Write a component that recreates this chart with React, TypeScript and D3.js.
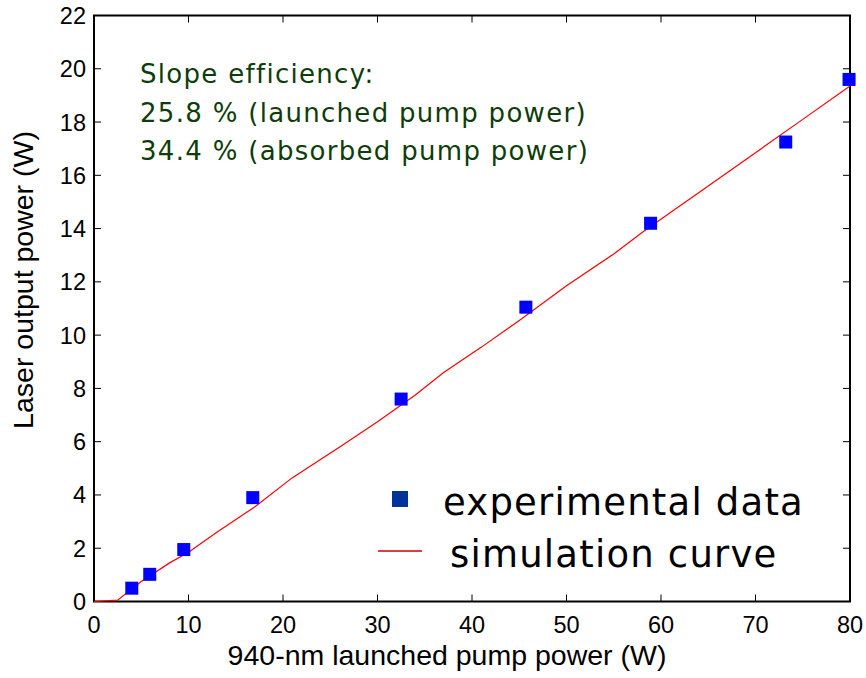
import React from "react";
import * as d3 from "d3";

const expX = [4.0, 5.9, 9.5, 16.8, 32.5, 45.7, 58.9, 73.2, 79.9];
const expY = [0.5, 1.02, 1.95, 3.9, 7.6, 11.05, 14.2, 17.25, 19.6];
const simX = [0, 2.5, 5, 8, 10, 13, 17, 21, 26, 30, 34, 37, 41, 45, 50, 55, 58, 61, 65, 70, 75, 80];
const simY = [0, 0.05, 0.75, 1.45, 1.85, 2.6, 3.55, 4.65, 5.8, 6.75, 7.75, 8.6, 9.55, 10.55, 11.85, 13.05, 13.85, 14.6, 15.6, 16.85, 18.1, 19.35];
const xTicks = [0, 10, 20, 30, 40, 50, 60, 70, 80];
const yTicks = [0, 2, 4, 6, 8, 10, 12, 14, 16, 18, 20, 22];
const noteLines = ["Slope efficiency:", "25.8 % (launched pump power)", "34.4 % (absorbed pump power)"];
const legendLabels = ["experimental data", "simulation curve"];

export default function App() {
  const W = 866, H = 678;
  const L = 94, R = 850, T = 15.5, B = 601.5;
  const x = d3.scaleLinear().domain([0, 80]).range([L, R]);
  const y = d3.scaleLinear().domain([0, 22]).range([B, T]);
  const line = d3.line<number>().x((_, i) => x(simX[i])).y((d) => y(d));
  const tk = 7;
  const axisFont = "Liberation Sans, Arial, sans-serif";
  const comic = "'Comic Sans MS', 'DejaVu Sans', sans-serif";
  const ms = 13;
  return (
    <svg width={W} height={H} style={{ position: "absolute", left: 0, top: 0, background: "#fff" }}>
      <rect x={0} y={0} width={W} height={H} fill="#fff" />
      {xTicks.map((t) => (
        <g key={"x" + t}>
          <line x1={x(t)} x2={x(t)} y1={B} y2={B - tk} stroke="#000" strokeWidth={1} />
          <line x1={x(t)} x2={x(t)} y1={T} y2={T + tk} stroke="#000" strokeWidth={1} />
          <text x={x(t)} y={B + 31.5} fontSize={23.5} fontFamily={axisFont} textAnchor="middle">{t}</text>
        </g>
      ))}
      {yTicks.map((t) => (
        <g key={"y" + t}>
          <line x1={L} x2={L + tk} y1={y(t)} y2={y(t)} stroke="#000" strokeWidth={1} />
          <line x1={R} x2={R - tk} y1={y(t)} y2={y(t)} stroke="#000" strokeWidth={1} />
          <text x={L - 8} y={y(t) + 8.5} fontSize={23.5} fontFamily={axisFont} textAnchor="end">{t}</text>
        </g>
      ))}
      <rect x={L} y={T} width={R - L} height={B - T} fill="none" stroke="#000" strokeWidth={2} />
      <path d={line(simY) || ""} fill="none" stroke="#ff0000" strokeWidth={1.2} />
      {expX.map((v, i) => (
        <rect key={i} x={x(v) - ms / 2} y={y(expY[i]) - ms / 2} width={ms} height={ms} fill="#0000ff" />
      ))}
      {noteLines.map((s, i) => (
        <text key={i} x={140} y={83 + i * 38.5} fontSize={26} letterSpacing={1.3} fontFamily={comic} fill="#0f3d0a">{s}</text>
      ))}
      <rect x={392} y={491} width={16} height={16} fill="#003399" />
      <line x1={378} x2={422} y1={551} y2={551} stroke="#cc0000" strokeWidth={1.5} />
      <text x={443} y={515} fontSize={37} letterSpacing={1.2} fontFamily={comic} fill="#000">{legendLabels[0]}</text>
      <text x={450} y={567} fontSize={37} letterSpacing={1.2} fontFamily={comic} fill="#000">{legendLabels[1]}</text>
      <text x={447} y={665} fontSize={28.5} fontFamily={axisFont} textAnchor="middle">940-nm launched pump power (W)</text>
      <text transform={`translate(33, 280) rotate(-90)`} fontSize={28.5} fontFamily={axisFont} textAnchor="middle">Laser output power (W)</text>
    </svg>
  );
}
